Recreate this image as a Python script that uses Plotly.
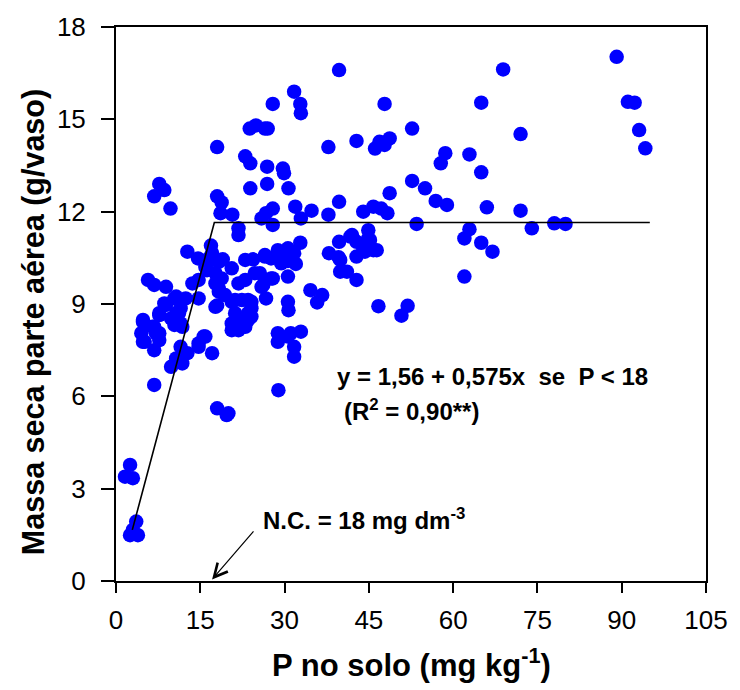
import plotly.graph_objects as go

# P no solo (mg kg-1)
p_solo = [
    39.7, 31.7, 32.8, 32.9, 27.9, 47.8,
    23.8, 24.9, 26.5, 27.0, 52.7,
    18.0, 37.8, 42.8, 46.1, 46.9, 47.8, 48.7,
    23.0, 23.9, 26.9, 29.7, 29.9,
    26.9, 23.9, 30.7, 52.7, 48.7,
    7.7, 8.6, 6.8, 9.7,
    18.0, 18.8, 18.6, 20.7,
    21.8, 21.8,
    25.9, 26.7, 27.9, 27.9,
    31.9, 32.9, 34.8,
    39.7, 37.8,
    44.0, 45.8, 47.2, 48.3,
    53.5,
    89.1, 68.9, 65.0, 91.1, 92.3, 72.0, 93.1, 94.2,
    58.6, 57.8, 62.9, 65.0, 55.0, 56.9, 58.9, 66.0, 72.0,
    62.9, 62.0, 65.0, 67.0, 74.0, 78.0, 80.0, 62.0, 51.9, 50.8,
    16.9, 17.1, 12.7, 14.6, 15.9, 16.8, 17.7, 18.3, 19.0, 20.6, 16.2, 17.7, 18.8,
    23.0, 24.4, 26.5, 28.8, 30.0, 31.7, 32.8, 32.0, 30.6, 29.4, 26.5, 27.6, 30.6,
    39.7, 41.7, 42.8, 44.0, 45.2, 46.4, 44.9, 44.9, 42.0, 44.3, 45.8, 42.8,
    37.9, 39.6, 39.9,
    39.9, 41.1, 42.8,
    5.7, 6.8, 8.9,
    13.6, 14.7, 17.7, 18.3, 21.8, 23.0, 24.7, 25.9, 27.6, 30.6, 25.6, 26.2, 27.9,
    34.6, 36.7, 35.8,
    46.7,
    10.7, 8.6, 12.4, 14.7, 10.4, 11.5, 8.9,
    18.0, 19.4, 18.3, 20.6, 22.4, 24.1, 26.7, 30.6, 30.7, 17.7, 21.2, 23.5, 24.1,
    7.7, 4.8, 11.2, 21.2, 23.5,
    4.8, 6.8, 7.7, 9.8, 10.7, 11.5, 7.7, 10.4, 11.8, 6.5,
    4.5, 4.8, 6.8, 7.7, 5.1, 7.1,
    11.5, 12.7, 11.8, 9.8, 10.7, 14.7, 15.9, 17.1, 15.6, 14.7,
    20.6, 23.0, 20.6, 21.8, 24.1, 23.5, 21.8,
    28.8, 28.8, 30.6, 31.7, 31.7, 32.9, 31.1,
    6.8, 28.9, 18.0, 19.7, 20.0,
    2.5, 1.6, 3.0, 3.6, 2.5, 3.9, 3.0,
]

# Massa seca parte aérea (g/vaso)
massa_seca = [
    16.6, 15.9, 15.5, 15.2, 15.5, 15.5,
    14.7, 14.8, 14.7, 14.7, 14.7,
    14.1, 14.1, 14.3, 14.05, 14.27, 14.17, 14.38,
    13.8, 13.57, 13.46, 13.4, 13.25,
    12.9, 12.76, 12.76, 13.0, 12.6,
    12.9, 12.7, 12.5, 12.1,
    12.5, 12.3, 11.95, 11.9,
    11.46, 11.24,
    11.78, 11.95, 12.1, 11.57,
    12.16, 11.78, 12.03,
    12.32, 11.9,
    12.0, 12.16, 12.1, 11.95,
    11.6,
    17.03, 16.62, 15.54, 15.57, 15.54, 14.52, 14.65, 14.06,
    13.9, 13.57, 13.86, 13.28, 12.76, 12.35, 12.22, 12.14, 12.03,
    11.43, 11.13, 10.99, 10.7, 11.46, 11.62, 11.6, 9.89, 8.94, 8.62,
    10.9, 10.65, 10.7, 10.48, 10.21, 10.54, 10.43, 10.37, 10.45, 10.16, 10.1, 10.0, 9.83,
    10.43, 10.45, 10.59, 10.75, 10.7, 10.65, 10.99, 10.3, 10.4, 10.32, 10.54, 10.48, 10.81,
    11.02, 11.19, 11.02, 10.75, 11.08, 10.75, 11.4, 11.13, 11.24, 10.7, 10.75, 10.54,
    10.65, 10.52, 10.43,
    10.05, 10.05, 9.78,
    9.78, 9.62, 9.56,
    9.67, 9.78, 9.67, 9.4, 9.67, 9.78, 10.0, 9.56, 9.83, 9.89, 10.0, 9.62, 9.83,
    9.45, 9.29, 9.05,
    8.93,
    9.24, 9.02, 9.18, 9.18, 9.18, 8.86, 8.97,
    8.95, 9.29, 9.5, 9.07, 9.13, 9.07, 9.18, 9.07, 8.8, 8.91, 9.13, 9.13, 8.86,
    8.7, 8.48, 8.7, 8.7, 8.7,
    8.42, 8.26, 8.64, 8.53, 8.7, 8.37, 8.05, 8.32, 8.26, 8.26,
    8.05, 7.77, 7.5, 7.83, 7.77, 8.05,
    7.61, 7.4, 7.07, 6.96, 7.23, 7.61, 7.94, 7.4, 7.94, 7.72,
    8.37, 8.26, 8.15, 8.53, 8.59, 8.48, 8.15,
    8.05, 7.77, 7.94, 7.61, 7.29, 8.1, 8.05,
    6.37, 6.2, 5.61, 5.39, 5.45,
    3.77, 3.39, 3.34, 1.93, 1.49, 1.49, 1.66,
]

# Fitted linear-plateau model (as drawn)
modelo_x = [2.9, 17.5, 95.0]
modelo_y = [1.66, 11.65, 11.65]

x_ticks = [0, 15, 30, 45, 60, 75, 90, 105]
y_ticks = [0, 3, 6, 9, 12, 15, 18]

FONT = "Liberation Sans, Arial, sans-serif"

fig = go.Figure()
fig.add_trace(go.Scatter(
    x=p_solo, y=massa_seca, mode="markers",
    marker=dict(symbol="circle", size=14.5, color="#0000FF", line=dict(width=0)),
    showlegend=False, hoverinfo="x+y",
))
fig.add_trace(go.Scatter(
    x=modelo_x, y=modelo_y, mode="lines",
    line=dict(color="black", width=1.6),
    showlegend=False, hoverinfo="skip",
))

fig.update_layout(
    width=740, height=690,
    margin=dict(l=116, r=26, t=26, b=109),
    plot_bgcolor="white", paper_bgcolor="white",
    font=dict(family=FONT, color="black"),
    xaxis=dict(
        range=[0, 105], tickvals=x_ticks, ticktext=[str(v) for v in x_ticks],
        showgrid=False, zeroline=False,
        showline=True, linecolor="black", linewidth=2, mirror=True,
        ticks="outside", ticklen=10, tickwidth=1.5, tickcolor="black",
        tickfont=dict(size=26, family=FONT), ticklabelstandoff=5,
    ),
    yaxis=dict(
        range=[0, 18], tickvals=y_ticks, ticktext=[str(v) for v in y_ticks],
        showgrid=False, zeroline=False,
        showline=True, linecolor="black", linewidth=2, mirror=True,
        ticks="outside", ticklen=13, tickwidth=1.5, tickcolor="black",
        tickfont=dict(size=26, family=FONT), ticklabelstandoff=10,
    ),
    annotations=[
        dict(text="<b>P no solo (mg kg<sup>-1</sup>)</b>", xref="paper", yref="paper",
             x=0.5, y=-0.148, yanchor="middle", xanchor="center", showarrow=False,
             font=dict(size=31, family=FONT)),
        dict(text="<b>Massa seca parte aérea (g/vaso)</b>", xref="paper", yref="paper",
             x=-0.14, y=0.468, xanchor="center", yanchor="middle", textangle=-90,
             showarrow=False, font=dict(size=30.5, family=FONT)),
        dict(text="<b>y = 1,56 + 0,575x&nbsp; se&nbsp; P &lt; 18</b>", xref="x", yref="y",
             x=39.0, y=6.63, xanchor="left", yanchor="middle", showarrow=False,
             font=dict(size=24, family=FONT)),
        dict(text="<b>(R<sup>2</sup> = 0,90**)</b>", xref="x", yref="y",
             x=40.2, y=5.55, xanchor="left", yanchor="middle", showarrow=False,
             font=dict(size=24, family=FONT)),
        dict(text="<b>N.C. = 18 mg dm<sup>-3</sup></b>", xref="x", yref="y",
             x=25.8, y=2.0, xanchor="left", yanchor="middle", showarrow=False,
             font=dict(size=24, family=FONT)),
        dict(text="", xref="x", yref="y", x=17.1, y=0.05,
             axref="x", ayref="y", ax=24.7, ay=1.66,
             showarrow=True, arrowhead=5, arrowsize=2.2, arrowwidth=1.2,
             arrowcolor="black", standoff=0),
    ],
)

fig.write_html("out.html")
